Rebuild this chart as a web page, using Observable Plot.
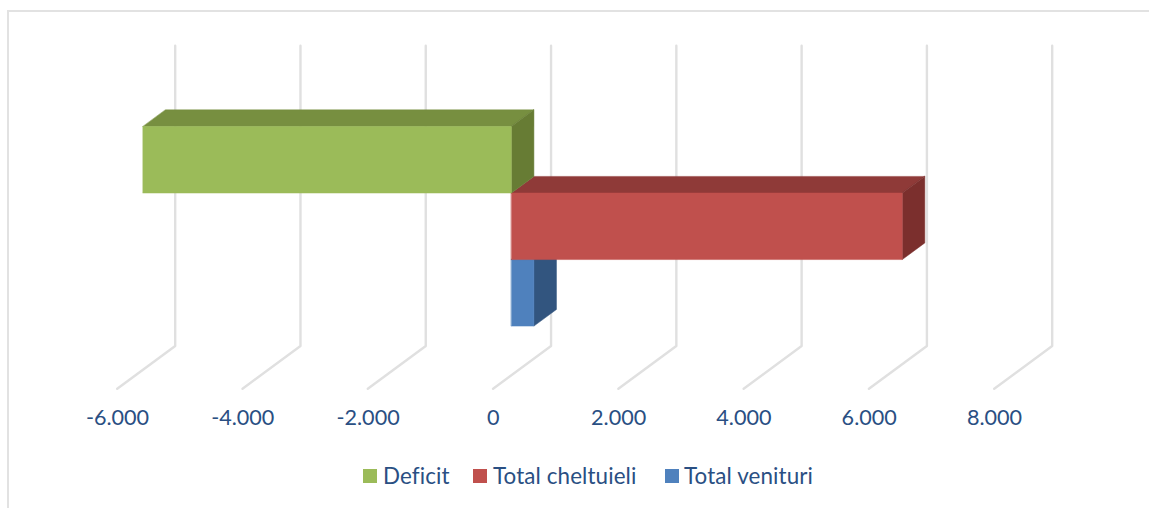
<!DOCTYPE html>
<html>
<head>
<meta charset="utf-8">
<script src="https://cdn.jsdelivr.net/npm/d3@7"></script>
<script src="https://cdn.jsdelivr.net/npm/@observablehq/plot@0.6"></script>
<style>
  html, body { margin: 0; background: #fff; }
  #page { position: relative; width: 1149px; height: 508px; overflow: hidden; font-family: Lato, sans-serif; font-variant-ligatures: none; }
  #frame { position: absolute; left: 7px; top: 10px; right: -4px; bottom: -4px; border-top: 2px solid #e2e2e2; border-left: 2px solid #e2e2e2; }
  #chart { position: absolute; left: 0; top: 0; }
  #chart svg { display: block; background: transparent; }
  #legend { position: absolute; left: 0; top: 458px; width: 1149px; height: 50px; color: #2a4f83; font-size: 22.4px; letter-spacing: 0.1px; }
  #legend .sw { position: absolute; top: 11px; width: 14px; height: 14px; }
  #legend .lb { position: absolute; top: 5px; line-height: 26px; white-space: nowrap; }
</style>
</head>
<body>
<div id="page">
  <div id="frame"></div>
  <div id="chart"></div>
  <div id="legend"></div>
</div>
<script>
// Chart values, drawn top to bottom
const categories = ["Deficit", "Total cheltuieli", "Total venituri"];
const values = [-5880, 6240, 360];
const frontColors = ["#9BBB59", "#C0504D", "#4F81BD"];
const topColors = ["#778F40", "#8F3A38", "#3A5F8D"];
const sideColors = ["#677C34", "#7B2F2D", "#32557F"];
const xTicks = [-6000, -4000, -2000, 0, 2000, 4000, 6000, 8000];

// Oblique projection of the 3-D chart: one unit of depth in data units
const depthX = 360, depthY = 0.25;
const barThickness = 1;       // bar height in rows
const wallDepth = 1.76, floorFrontDepth = -0.81;
const wallTopRow = -0.774, floorRow = 3.74;

const project = (v, row, d) => ({x: v + d * depthX, y: row - d * depthY});

const faces = [];
// blue first, green last, so that nearer faces overlap correctly
categories.map((c, i) => i).reverse().forEach(i => {
  const a = 0, b = values[i], lo = Math.min(a, b), hi = Math.max(a, b);
  const r0 = i, r1 = i + barThickness;
  const add = (name, color, pts) => pts.forEach(p => faces.push({...p, id: categories[i] + name, color}));
  add("top", topColors[i], [project(lo, r0, 0), project(hi, r0, 0), project(hi, r0, 1), project(lo, r0, 1)]);
  add("side", sideColors[i], [project(hi, r0, 0), project(hi, r1, 0), project(hi, r1, 1), project(hi, r0, 1)]);
  add("front", frontColors[i], [project(lo, r0, 0), project(hi, r0, 0), project(hi, r1, 0), project(lo, r1, 0)]);
});

const grid = xTicks.flatMap(t => [
  {...project(t, wallTopRow, wallDepth), t},
  {...project(t, floorRow, wallDepth), t},
  {...project(t, floorRow, floorFrontDepth), t}
]);

const fmt = d3.formatLocale({decimal: ",", thousands: ".", grouping: [3], currency: ["", ""], minus: "-"}).format(",");

const plot = Plot.plot({
  width: 1149,
  height: 458,
  marginLeft: 135,
  marginRight: 137,
  marginTop: 0,
  marginBottom: 50,
  style: {background: "transparent", overflow: "visible"},
  x: {domain: [-6000, 8000]},
  y: {domain: [0, 3], range: [126, 325.6], axis: null},
  color: {type: "identity"},
  marks: [
    Plot.line(grid, {x: "x", y: "y", z: "t", stroke: "#e0e0e0", strokeWidth: 2.4}),
    Plot.line(faces, {x: "x", y: "y", z: "id", fill: "color", stroke: "color", strokeWidth: 0.5, curve: "linear-closed"}),
    Plot.axisX(xTicks, {
      anchor: "bottom", tickSize: 0, tickPadding: 0, tickFormat: fmt, label: null,
      dx: -18, dy: 1,
      fontSize: 21.6, fontFamily: "Lato, sans-serif", fill: "#2a4f83"
    })
  ]
});
document.getElementById("chart").appendChild(plot);

const legend = document.getElementById("legend");
const swatchLeft = [363, 473, 665], labelLeft = [383, 493, 684];
categories.forEach((c, i) => {
  const s = document.createElement("div");
  s.className = "sw"; s.style.left = swatchLeft[i] + "px"; s.style.background = frontColors[i];
  const l = document.createElement("div");
  l.className = "lb"; l.style.left = labelLeft[i] + "px"; l.textContent = c;
  legend.append(s, l);
});
</script>
</body>
</html>
